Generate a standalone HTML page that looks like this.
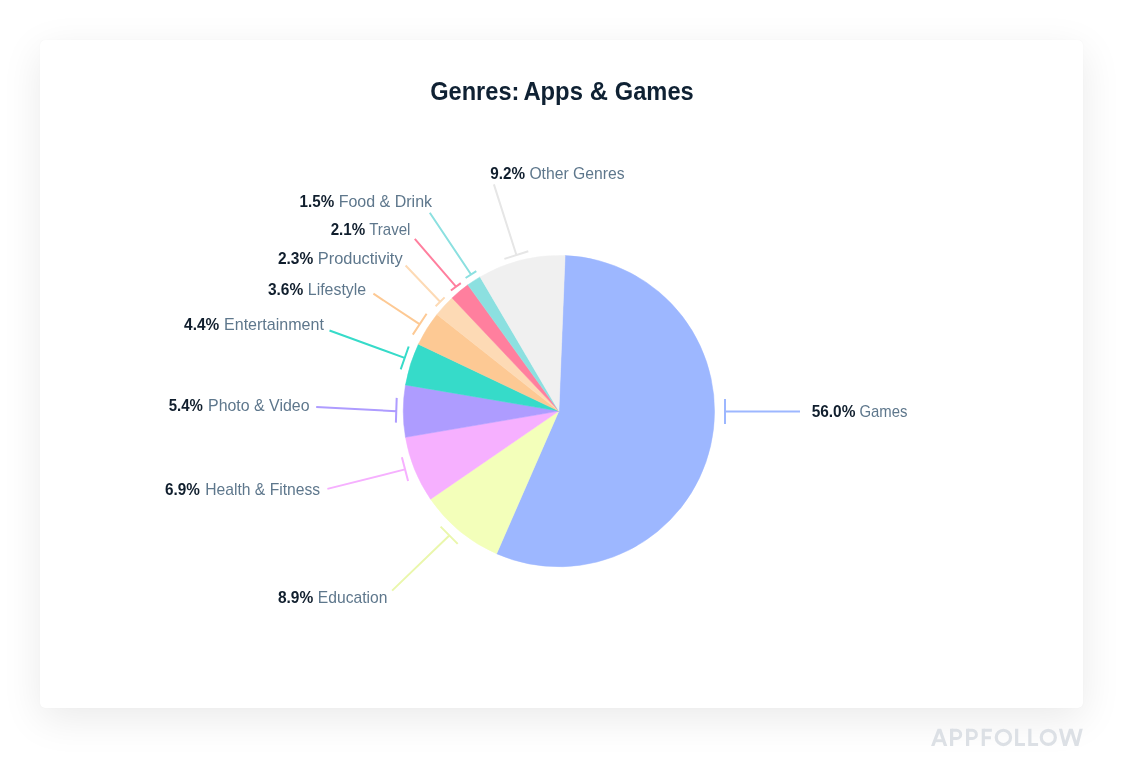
<!DOCTYPE html>
<html><head><meta charset="utf-8"><title>Genres: Apps &amp; Games</title>
<style>
html,body{margin:0;padding:0;background:#fff;}
body{width:1123px;height:758px;position:relative;overflow:hidden;font-family:"Liberation Sans",sans-serif;}
.card{position:absolute;left:40px;top:40px;width:1043px;height:668px;background:#fff;border-radius:5px;box-shadow:0 11px 40px rgba(0,0,0,0.088),0 0 1px rgba(0,0,0,0.06);}
svg{position:absolute;left:0;top:0;will-change:transform;}
text{font-family:"Liberation Sans",sans-serif;}
.b{font-weight:700;font-size:15.7px;fill:#101E2D;}
.n{font-weight:400;font-size:15.7px;fill:#5E778C;}
.title{font-weight:700;font-size:25.5px;fill:#0F2133;}
.brand{font-weight:700;font-size:23px;fill:#DADEE3;}
</style></head><body>
<div class="card"></div>
<svg width="1123" height="758" viewBox="0 0 1123 758">
<text x="430.20" y="99.5" class="title" textLength="89.22" lengthAdjust="spacingAndGlyphs">Genres:</text>
<text x="523.38" y="99.5" class="title" textLength="59.52" lengthAdjust="spacingAndGlyphs">Apps</text>
<text x="589.84" y="99.5" class="title" textLength="18.24" lengthAdjust="spacingAndGlyphs">&amp;</text>
<text x="614.84" y="99.5" class="title" textLength="78.88" lengthAdjust="spacingAndGlyphs">Games</text>
<g>
<path d="M558.9,411.1L565.07,255.57A155.65,155.65 0 1 1 496.59,553.74Z" fill="#9DB7FF" stroke="#9DB7FF" stroke-width="0.5"/>
<path d="M558.9,411.1L496.59,553.74A155.65,155.65 0 0 1 430.56,499.17Z" fill="#F3FFBA" stroke="#F3FFBA" stroke-width="0.5"/>
<path d="M558.9,411.1L430.56,499.17A155.65,155.65 0 0 1 405.47,437.31Z" fill="#F6B0FF" stroke="#F6B0FF" stroke-width="0.5"/>
<path d="M558.9,411.1L405.47,437.31A155.65,155.65 0 0 1 405.47,384.90Z" fill="#AE9CFF" stroke="#AE9CFF" stroke-width="0.5"/>
<path d="M558.9,411.1L405.47,384.90A155.65,155.65 0 0 1 418.39,344.14Z" fill="#36DBC9" stroke="#36DBC9" stroke-width="0.5"/>
<path d="M558.9,411.1L418.39,344.14A155.65,155.65 0 0 1 436.92,314.41Z" fill="#FDC994" stroke="#FDC994" stroke-width="0.5"/>
<path d="M558.9,411.1L436.92,314.41A155.65,155.65 0 0 1 452.07,297.90Z" fill="#FDDAB5" stroke="#FDDAB5" stroke-width="0.5"/>
<path d="M558.9,411.1L452.07,297.90A155.65,155.65 0 0 1 467.84,284.87Z" fill="#FF7F9E" stroke="#FF7F9E" stroke-width="0.5"/>
<path d="M558.9,411.1L467.84,284.87A155.65,155.65 0 0 1 480.09,276.88Z" fill="#8CE0E0" stroke="#8CE0E0" stroke-width="0.5"/>
<path d="M558.9,411.1L480.09,276.88A155.65,155.65 0 0 1 565.07,255.57Z" fill="#F0F0F0" stroke="#F0F0F0" stroke-width="0.5"/>
</g>
<g stroke-linecap="butt">
<path d="M800,411.5L725,411.5M725,399L725,424" stroke="#9DB7FF" stroke-width="2" fill="none"/>
<path d="M392.1,590.6L449.3,535.5M440.6,526.6L457.7,543.9" stroke="#EAF7AC" stroke-width="2" fill="none"/>
<path d="M327.4,488.9L405.0,469.4M401.9,457.2L408.1,481.1" stroke="#F6B0FF" stroke-width="2" fill="none"/>
<path d="M316.2,407.05L396.2,411.15M396.7,397.9L395.9,422.6" stroke="#AE9CFF" stroke-width="2" fill="none"/>
<path d="M329.5,330.5L404.6,357.9M400.7,369.3L408.7,346.5" stroke="#36DBC9" stroke-width="2" fill="none"/>
<path d="M373.4,293.7L419.5,324.1M412.8,334.6L426.6,313.7" stroke="#FDC994" stroke-width="2" fill="none"/>
<path d="M405.6,265.5L440.1,301.7M435.6,306.3L444.6,297.4" stroke="#FDDAB5" stroke-width="2" fill="none"/>
<path d="M414.8,238.9L456.0,286.7M450.9,290.5L460.8,283.1" stroke="#FF7F9E" stroke-width="2" fill="none"/>
<path d="M429.8,212.7L470.9,274.3M465.6,278.0L476.3,271.1" stroke="#8CE0E0" stroke-width="2" fill="none"/>
<path d="M493.9,184.4L516.4,255.0M504.4,258.9L528.3,251.3" stroke="#E6E6E6" stroke-width="2" fill="none"/>
</g>
<g>
<text x="811.64" y="417.1" class="b" textLength="43.8" lengthAdjust="spacingAndGlyphs">56.0%</text>
<text x="859.38" y="417.1" class="n" textLength="48.0" lengthAdjust="spacingAndGlyphs">Games</text>
<text x="277.92" y="602.8" class="b" textLength="35.3" lengthAdjust="spacingAndGlyphs">8.9%</text>
<text x="317.84" y="602.8" class="n" textLength="69.5" lengthAdjust="spacingAndGlyphs">Education</text>
<text x="164.92" y="495.2" class="b" textLength="34.9" lengthAdjust="spacingAndGlyphs">6.9%</text>
<text x="205.20" y="495.2" class="n" textLength="115.0" lengthAdjust="spacingAndGlyphs">Health &amp; Fitness</text>
<text x="168.64" y="410.9" class="b" textLength="34.2" lengthAdjust="spacingAndGlyphs">5.4%</text>
<text x="208.02" y="410.9" class="n" textLength="101.5" lengthAdjust="spacingAndGlyphs">Photo &amp; Video</text>
<text x="184.12" y="329.9" class="b" textLength="35.1" lengthAdjust="spacingAndGlyphs">4.4%</text>
<text x="224.02" y="329.9" class="n" textLength="99.9" lengthAdjust="spacingAndGlyphs">Entertainment</text>
<text x="267.92" y="294.8" class="b" textLength="35.3" lengthAdjust="spacingAndGlyphs">3.6%</text>
<text x="307.84" y="294.8" class="n" textLength="58.3" lengthAdjust="spacingAndGlyphs">Lifestyle</text>
<text x="277.92" y="263.8" class="b" textLength="35.3" lengthAdjust="spacingAndGlyphs">2.3%</text>
<text x="317.84" y="263.8" class="n" textLength="84.8" lengthAdjust="spacingAndGlyphs">Productivity</text>
<text x="330.64" y="234.8" class="b" textLength="34.5" lengthAdjust="spacingAndGlyphs">2.1%</text>
<text x="369.18" y="234.8" class="n" textLength="41.3" lengthAdjust="spacingAndGlyphs">Travel</text>
<text x="299.56" y="206.8" class="b" textLength="34.6" lengthAdjust="spacingAndGlyphs">1.5%</text>
<text x="338.66" y="206.8" class="n" textLength="93.4" lengthAdjust="spacingAndGlyphs">Food &amp; Drink</text>
<text x="490.28" y="178.8" class="b" textLength="34.8" lengthAdjust="spacingAndGlyphs">9.2%</text>
<text x="529.38" y="178.8" class="n" textLength="95.2" lengthAdjust="spacingAndGlyphs">Other Genres</text>
</g>
<defs><clipPath id="bc"><rect x="925" y="728.8" width="165" height="17.2"/></clipPath></defs>
<g fill="none" stroke="#DCE0E5" stroke-width="3.2" stroke-linejoin="miter" stroke-miterlimit="10">
<g clip-path="url(#bc)">
<path d="M932.0,748 L939.4,728.4 L946.3,748"/>
<path d="M1059.9,726.5 L1065.0,746.6 L1070.9,728.2 L1076.6,746.6 L1081.7,726.5"/>
</g>
<path d="M935.2,740.7 H943.6" stroke-width="2.9"/>
<path d="M951.6,746 V728.8 M967.6,746 V728.8 M983.3,746 V728.8 M1016.65,728.8 V746 M1029.85,728.8 V746"/>
<path d="M951.6,730.3 H956.6 A4.1,4.1 0 0 1 956.6,738.5 H951.6 M967.6,730.3 H972.3 A4.1,4.1 0 0 1 972.3,738.5 H967.6 M983.3,730.3 H991.9 M983.3,737.8 H990.9 M1016.65,744.5 H1025.0 M1029.85,744.5 H1038.1" stroke-width="3"/>
<circle cx="1003.4" cy="737.4" r="7.15"/>
<circle cx="1048.3" cy="737.4" r="7.05"/>
</g>
</svg>
</body></html>
